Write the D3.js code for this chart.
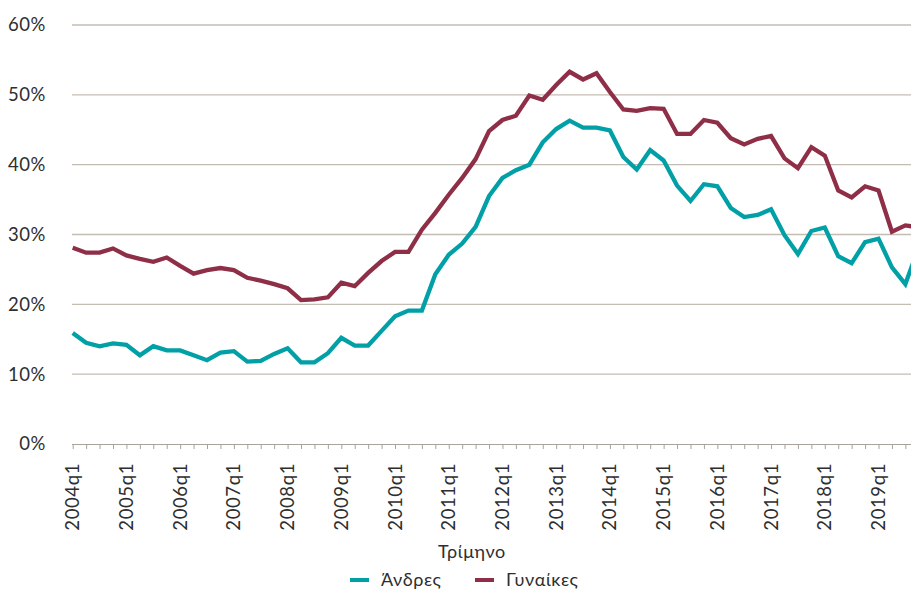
<!DOCTYPE html>
<html lang="el">
<head>
    <meta charset="UTF-8">
    <title>Τρίμηνο</title>
    <script src="https://cdn.jsdelivr.net/npm/d3@7"></script>
    <style>
    body { margin: 0; background: #fff; }
    svg text { font-family: Lato, "Open Sans", sans-serif; fill: #2e2e2e; letter-spacing: 0.6px; }
    g.grid line { stroke: #c4bdb3; stroke-width: 1.3; }
    g.xaxis line, g.xaxis path { stroke: #a8a29a; }
    </style>
</head>
<body>
    <script>
        var width = 911;
        var height = 590;

        var years = d3.range(2004, 2020);
        var quarters = [];
        years.forEach(function(y){ [1,2,3,4].forEach(function(q){ quarters.push(y + "q" + q); }); });

        var yTicks = [0, 10, 20, 30, 40, 50, 60];

        // Άνδρες
        var men = [15.9, 14.5, 14.0, 14.4, 14.2, 12.7, 14.0, 13.4,
                   13.4, 12.7, 12.0, 13.1, 13.3, 11.8, 11.9, 12.9,
                   13.7, 11.7, 11.7, 13.0, 15.2, 14.1, 14.1, 16.2,
                   18.3, 19.1, 19.1, 24.3, 27.1, 28.7, 31.1, 35.5,
                   38.1, 39.2, 40.0, 43.2, 45.1, 46.3, 45.3, 45.3,
                   44.9, 41.1, 39.3, 42.1, 40.6, 37.0, 34.8, 37.2,
                   36.9, 33.8, 32.5, 32.8, 33.6, 29.9, 27.2, 30.5,
                   31.0, 26.9, 25.9, 28.9, 29.4, 25.3, 22.9, 28.2];

        // Γυναίκες
        var women = [28.1, 27.4, 27.4, 28.0, 27.0, 26.5, 26.1, 26.7,
                     25.5, 24.4, 24.9, 25.2, 24.9, 23.8, 23.4, 22.9,
                     22.3, 20.6, 20.7, 21.0, 23.1, 22.6, 24.5, 26.2,
                     27.5, 27.5, 30.7, 33.1, 35.7, 38.1, 40.8, 44.8,
                     46.4, 47.0, 49.9, 49.3, 51.4, 53.3, 52.2, 53.1,
                     50.4, 47.9, 47.7, 48.1, 48.0, 44.4, 44.4, 46.4,
                     46.0, 43.8, 42.9, 43.7, 44.1, 40.9, 39.5, 42.5,
                     41.3, 36.3, 35.3, 36.9, 36.3, 30.4, 31.3, 31.0];

        var series = [
            {name: "Άνδρες", values: men, color: "#00a0a6"},
            {name: "Γυναίκες", values: women, color: "#8f2e47"}
        ];

        var svg = d3.select("body").append("svg").attr("width", width).attr("height", height);

        // plot runs a bit past the right edge of the picture, as in the original
        var x = d3.scalePoint().domain(quarters).range([72.7, 918.8]);
        var y = d3.scaleLinear().domain([0, 60]).range([444, 25]);

        // horizontal gridlines
        svg.append("g").attr("class", "grid")
            .selectAll("line")
            .data(yTicks.filter(function(d){ return d > 0; }))
            .enter().append("line")
                .attr("x1", 72).attr("x2", width)
                .attr("y1", function(d){ return y(d); })
                .attr("y2", function(d){ return y(d); });

        // y labels
        svg.append("g")
            .selectAll("text")
            .data(yTicks)
            .enter().append("text")
                .attr("x", 46)
                .attr("y", function(d){ return y(d); })
                .attr("dy", "0.35em")
                .attr("text-anchor", "end")
                .style("font-size", "18.5px")
                .text(function(d){ return d + "%"; });

        // x axis with a tick for every quarter
        var xAxis = svg.append("g").attr("class", "xaxis")
            .attr("transform", "translate(0," + y(0) + ")")
            .call(d3.axisBottom(x).tickSize(5).tickSizeOuter(0).tickFormat(""));
        xAxis.select(".domain").attr("d", "M72," + 0.5 + "H" + width);

        svg.append("g")
            .selectAll("text")
            .data(quarters.filter(function(d){ return d.slice(-2) === "q1"; }))
            .enter().append("text")
                .attr("transform", function(d){ return "translate(" + x(d) + ",463) rotate(-90)"; })
                .attr("dy", "0.35em")
                .attr("text-anchor", "end")
                .style("font-size", "18.5px")
                .text(function(d){ return d; });

        var line = d3.line()
            .x(function(d, i){ return x(quarters[i]); })
            .y(function(d){ return y(d); });

        svg.append("g")
            .selectAll("path")
            .data(series)
            .enter().append("path")
                .attr("d", function(d){ return line(d.values); })
                .attr("fill", "none")
                .attr("stroke", function(d){ return d.color; })
                .attr("stroke-width", 4.3)
                .attr("stroke-linejoin", "miter");

        // axis title
        svg.append("text")
            .attr("x", 472).attr("y", 558)
            .attr("text-anchor", "middle")
            .style("font-size", "18px")
            .text("Τρίμηνο");

        // legend
        var legendX = [350, 475];
        var legend = svg.append("g")
            .selectAll("g")
            .data(series)
            .enter().append("g")
                .attr("transform", function(d, i){ return "translate(" + legendX[i] + ",580)"; });
        legend.append("line")
            .attr("x1", 0).attr("x2", 19)
            .attr("stroke", function(d){ return d.color; })
            .attr("stroke-width", 4);
        legend.append("text")
            .attr("x", 31).attr("dy", "0.35em")
            .style("font-size", "18px")
            .text(function(d){ return d.name; });
    </script>
</body>
</html>
